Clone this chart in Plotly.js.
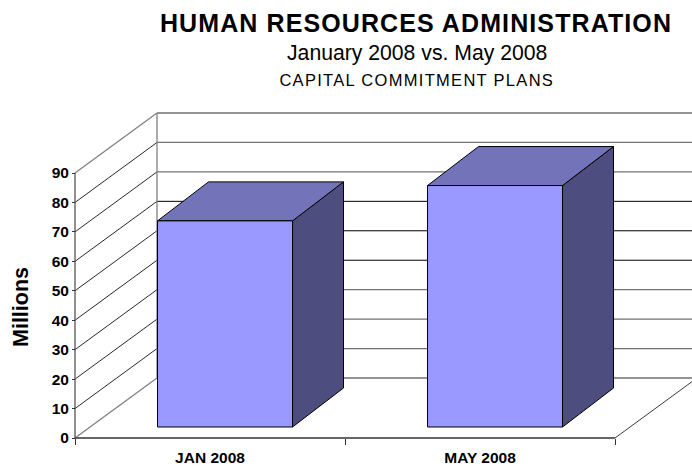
<!DOCTYPE html>
<html>
<head>
<meta charset="utf-8">
<script src="https://cdn.plot.ly/plotly-3.0.1.min.js"></script>
<style>
html,body{margin:0;padding:0;background:#fff;overflow:hidden}
/* The headings are set with slightly open tracking */
.gtitle{letter-spacing:1.1px}
.annotation[data-index="1"] text{letter-spacing:1.3px}
</style>
</head>
<body>
<div id="chart" style="width:692px;height:468px"></div>
<script>
// Capital commitment plans, in millions
const categories = ['JAN 2008', 'MAY 2008'];
const commitments = [70, 82];
const gridValues = [0, 10, 20, 30, 40, 50, 60, 70, 80, 90];
const mutedGridValues = [0, 10, 20, 30, 70, 80, 90];
const darkGridValues = [40, 50, 60];

// Front plane of the 3D box, in pixels per axis unit
const unitX = 270, unitY = 265 / 90;
const yMax = 90;
const xEnd = categories.length;
// Padding round the front plane so that lines on its edges are not cut off
const pad = 5, plotTop = 108, plotLeft = 70, plotBottom = 25;
const plotW = 692 - plotLeft, plotH = 468 - plotTop - plotBottom;

// Oblique projection: depth runs 0 (front) to 1 (back wall), drawn up and to the right.
const depthX = 82 / unitX;
const depthY = 60 / unitY;
const barFrontDepth = 11 / 60;
const barBackDepth = 50 / 60;
const barBackDepthX = 66 / 82;
const barHalfWidth = 0.25;

// A point is [x, y, depth] with an optional fourth entry for a different horizontal depth
const px = (x, d) => x + d * depthX;
const py = (y, d) => y + d * depthY;

function poly(points, fill, lineColor, lineWidth) {
  const trace = {
    type: 'scatter', mode: 'lines', hoverinfo: 'skip', showlegend: false,
    x: points.map(p => px(p[0], p[3] === undefined ? p[2] : p[3])),
    y: points.map(p => py(p[1], p[2])),
    line: {color: lineColor, width: lineWidth}
  };
  if (fill) { trace.fill = 'toself'; trace.fillcolor = fill; }
  return trace;
}

const traces = [];

// Back wall rules and the receding lines on the side wall
function gridTraces(values, color, width) {
  values.forEach(v => {
    const edge = v === 0 || v === yMax;
    traces.push(poly([[0, v, 1], [xEnd + 0.1, v, 1]], null, color, width));
    traces.push(poly([[0, v, 0], [0, v, 1]], null, edge ? '#808080' : '#111111', edge ? 1.3 : 0.9));
  });
}
gridTraces(mutedGridValues, '#707070', 1.3);
gridTraces(darkGridValues, '#000000', 1);

// Back wall left edge and floor right edge
traces.push(poly([[0, 0, 1], [0, yMax, 1]], null, '#808080', 1.3));
traces.push(poly([[xEnd, 0, 0], [xEnd, 0, 1]], null, '#222222', 0.9));

// Axis lines along the front plane
traces.push(poly([[0, 0, 0], [0, yMax, 0]], null, '#555555', 1.3));
traces.push(poly([[0, 0, 0], [xEnd, 0, 0]], null, '#333333', 1.5));

// Bars: side, top, then front face
commitments.forEach((value, i) => {
  const c = i + 0.5, l = c - barHalfWidth, r = c + barHalfWidth;
  const a = barFrontDepth, b = barBackDepth, bx = barBackDepthX;
  traces.push(poly([[r, 0, a], [r, 0, b, bx], [r, value, b, bx], [r, value, a], [r, 0, a]], '#4D4D80', '#000000', 1));
  traces.push(poly([[l, value, a], [l, value, b, bx], [r, value, b, bx], [r, value, a], [l, value, a]], '#7373B9', '#000000', 1));
  traces.push(poly([[l, 0, a], [r, 0, a], [r, value, a], [l, value, a], [l, 0, a]], '#9999FF', '#000000', 1));
});

const fontFamily = '"Liberation Sans", Arial, sans-serif';
const paperX = px => (px - plotLeft) / plotW;
const paperY = py => (468 - plotBottom - py) / plotH;
const layout = {
  width: 692, height: 468,
  margin: {l: plotLeft, r: 0, t: plotTop, b: plotBottom, pad: 0},
  paper_bgcolor: '#ffffff', plot_bgcolor: 'rgba(0,0,0,0)',
  showlegend: false,
  title: {
    text: 'HUMAN RESOURCES ADMINISTRATION',
    font: {family: fontFamily, size: 25, color: '#000000', weight: 700},
    x: 416 / 692, xanchor: 'center', xref: 'container',
    y: 1 - 23 / 468, yanchor: 'middle', yref: 'container'
  },
  xaxis: {
    type: 'linear', range: [-pad / unitX, (plotW - pad) / unitX], fixedrange: true,
    anchor: 'free', position: pad / plotH,
    showgrid: false, zeroline: false, showline: false,
    ticks: '', tickmode: 'array',
    tickvals: categories.map((_, i) => i + 0.5), ticktext: categories,
    tickfont: {family: fontFamily, size: 15.5, color: '#000000', weight: 700},
    ticklabelstandoff: 8,
    minor: {tickmode: 'array', tickvals: [0, 1, 2], ticks: 'outside', ticklen: 6, tickcolor: '#333333', tickwidth: 1, showgrid: false}
  },
  yaxis: {
    type: 'linear', range: [-pad / unitY, (plotH - pad) / unitY], fixedrange: true,
    anchor: 'free', position: pad / plotW,
    showgrid: false, zeroline: false, showline: false,
    tickmode: 'array', tickvals: gridValues,
    ticks: 'outside', ticklen: 3, tickcolor: '#333333', tickwidth: 1,
    tickfont: {family: fontFamily, size: 15.5, color: '#000000', weight: 700}
  },
  annotations: [
    {text: 'January 2008 vs. May 2008', xref: 'paper', yref: 'paper', xanchor: 'center', yanchor: 'middle',
     x: paperX(416.5), y: paperY(53), showarrow: false,
     font: {family: fontFamily, size: 21.2, color: '#000000'}},
    {text: 'CAPITAL COMMITMENT PLANS', xref: 'paper', yref: 'paper', xanchor: 'center', yanchor: 'middle',
     x: paperX(416.5), y: paperY(80), showarrow: false,
     font: {family: fontFamily, size: 16.5, color: '#000000'}},
    {text: 'Millions', xref: 'paper', yref: 'paper', xanchor: 'center', yanchor: 'middle', textangle: -90,
     x: paperX(21), y: paperY(307), showarrow: false,
     font: {family: fontFamily, size: 21.5, color: '#000000', weight: 700}}
  ]
};

Plotly.newPlot('chart', traces, layout, {displayModeBar: false, staticPlot: true});
</script>
</body>
</html>
